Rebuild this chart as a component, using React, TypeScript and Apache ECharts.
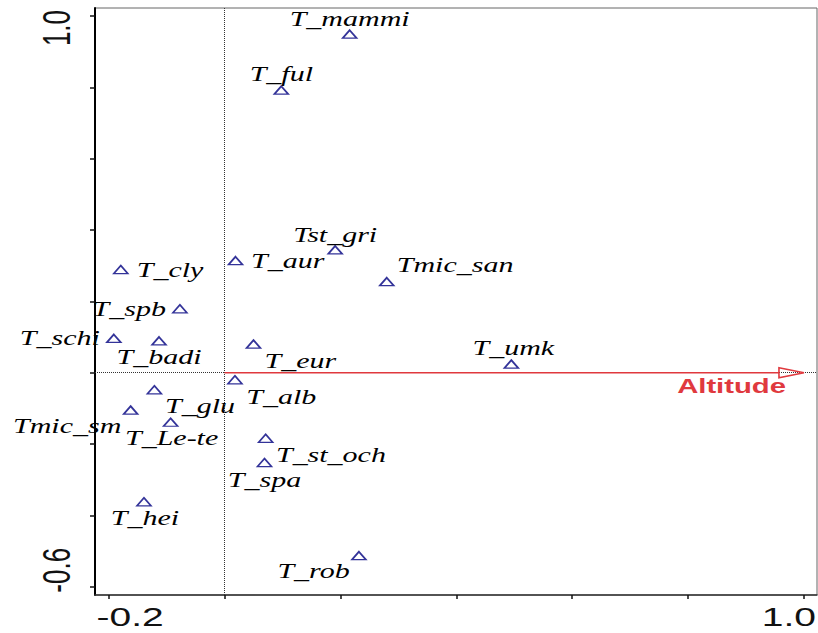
import React, { useEffect, useRef } from "react";
import * as echarts from "echarts";

// ---- data ----
const speciesNames = [
  "T_mammi", "T_ful", "Tst_gri", "T_aur", "Tmic_san", "T_cly", "T_spb",
  "T_schi", "T_badi", "T_eur", "T_umk", "T_alb", "T_glu", "Tmic_sm",
  "T_Le-te", "T_st_och", "T_spa", "T_hei", "T_rob",
];
const axis1Scores = [
  0.216, 0.098, 0.191, 0.019, 0.280, -0.179, -0.077,
  -0.191, -0.113, 0.050, 0.495, 0.018, -0.121, -0.162,
  -0.093, 0.071, 0.069, -0.139, 0.232,
];
const axis2Scores = [
  0.949, 0.792, 0.344, 0.314, 0.255, 0.289, 0.179,
  0.096, 0.089, 0.080, 0.024, -0.020, -0.048, -0.105,
  -0.139, -0.184, -0.252, -0.362, -0.513,
];
const envNames = ["Altitude"];
const envAxis1 = [1.0];
const envAxis2 = [0.0];

const xTickValues = [-0.2, 0, 0.2, 0.4, 0.6, 0.8, 1.0];
const yTickValues = [-0.6, -0.4, -0.2, 0, 0.2, 0.4, 0.6, 0.8, 1.0];
const xTickLabels = ["-0.2", "1.0"];
const yTickLabels = ["-0.6", "1.0"];

// ---- layout (label placement relative to each point: anchor, dx, dy in px) ----
const labelPlacement: [string, number, number][] = [
  ["center", 0, -14.5],
  ["center", 0, -15.5],
  ["center", 0, -15],
  ["left", 15.5, 1],
  ["left", 10, -16],
  ["left", 16, 0.5],
  ["right", -14, 1],
  ["right", -14, 0],
  ["center", 0, 16.5],
  ["left", 11, 17.4],
  ["center", 2, -15.5],
  ["left", 11.4, 17.8],
  ["left", 10.7, 16.7],
  ["right", -9.3, 16.7],
  ["center", 1, 16],
  ["left", 10.3, 16.7],
  ["center", 0, 17.3],
  ["center", 1, 16.3],
  ["right", -9.3, 16],
];

const RED = "#e0393e";
const NAVY = "#000080";

export default function App() {
  const ref = useRef<HTMLDivElement>(null);
  useEffect(() => {
    const chart = echarts.init(ref.current!, null, { renderer: "svg" });
    const points = speciesNames.map((n, i) => ({ name: n, value: [axis1Scores[i], axis2Scores[i], i] }));
    const env = envNames.map((n, i) => ({ name: n, value: [envAxis1[i], envAxis2[i], i] }));

    chart.setOption({
      animation: false,
      backgroundColor: "#ffffff",
      grid: { left: 95, right: 1, top: 8, bottom: 38, show: true, borderColor: "#666", borderWidth: 1 },
      xAxis: {
        type: "value",
        min: -0.2235,
        max: 1.0225,
        axisLine: { show: true, onZero: false, lineStyle: { color: "#333", width: 1.5 } },
        axisTick: { show: true, customValues: xTickValues, length: 4, lineStyle: { color: "#111", width: 1.5 } },
        axisLabel: { show: false },
        splitLine: { show: false },
      },
      yAxis: {
        type: "value",
        min: -0.6233,
        max: 1.0224,
        axisLine: { show: true, onZero: false, lineStyle: { color: "#000", width: 2 } },
        axisTick: { show: true, customValues: yTickValues, length: 5, lineStyle: { color: "#111", width: 1.5 } },
        axisLabel: { show: false },
        splitLine: { show: false },
      },
      series: [
        {
          type: "scatter",
          data: points,
          symbol: "triangle",
          symbolSize: [14, 8],
          itemStyle: { color: "rgba(0,0,0,0)", borderColor: NAVY, borderWidth: 1.6 },
          z: 3,
          markLine: {
            silent: true,
            symbol: ["none", "none"],
            label: { show: false },
            lineStyle: { type: "dotted", color: "#333", width: 1 },
            data: [{ xAxis: 0 }, { yAxis: 0 }],
          },
        },
        {
          type: "custom",
          data: points,
          z: 4,
          renderItem: (params: any, api: any) => {
            const i = api.value(2);
            const pt = api.coord([api.value(0), api.value(1)]);
            const [align, dx, dy] = labelPlacement[i];
            return {
              type: "text",
              x: pt[0] + dx,
              y: pt[1] + dy,
              scaleX: 1.5,
              style: {
                text: speciesNames[i],
                fill: "#000",
                fontFamily: "Liberation Serif",
                fontStyle: "italic",
                fontSize: 20,
                align,
                verticalAlign: "middle",
              },
            };
          },
        },
        {
          type: "custom",
          data: env,
          z: 5,
          renderItem: (params: any, api: any) => {
            const i = api.value(2);
            const o = api.coord([0, 0]);
            const t = api.coord([api.value(0), api.value(1)]);
            const headL = 25;
            const headH = 5;
            return {
              type: "group",
              children: [
                { type: "line", shape: { x1: o[0], y1: o[1], x2: t[0] - headL, y2: t[1] }, style: { stroke: RED, lineWidth: 1.6 } },
                {
                  type: "polygon",
                  shape: { points: [[t[0] - headL, t[1] - headH], [t[0], t[1]], [t[0] - headL, t[1] + headH]] },
                  style: { fill: "none", stroke: RED, lineWidth: 1.6 },
                },
                {
                  type: "text",
                  x: t[0] - 18,
                  y: t[1] + 13.5,
                  scaleX: 1.5,
                  style: {
                    text: envNames[i],
                    fill: RED,
                    fontFamily: "Liberation Sans",
                    fontWeight: "bold",
                    fontSize: 19.5,
                    align: "right",
                    verticalAlign: "middle",
                  },
                },
              ],
            };
          },
        },
      ],
    });

    const px = (v: number) => chart.convertToPixel({ xAxisIndex: 0 }, v) as number;
    const py = (v: number) => chart.convertToPixel({ yAxisIndex: 0 }, v) as number;
    const tickFont = { fontFamily: "Liberation Sans", fontSize: 26, fill: "#111" };
    chart.setOption({
      graphic: [
        {
          type: "text", x: px(parseFloat(xTickLabels[0])) - 12, y: 617, scaleX: 1.5,
          style: { ...tickFont, text: xTickLabels[0], align: "left", verticalAlign: "middle" },
        },
        {
          type: "text", x: px(parseFloat(xTickLabels[1])) + 12, y: 617, scaleX: 1.5,
          style: { ...tickFont, text: xTickLabels[1], align: "right", verticalAlign: "middle" },
        },
        {
          type: "text", x: 56, y: py(parseFloat(yTickLabels[0])) + 6, rotation: Math.PI / 2, scaleY: 1.5,
          style: { ...tickFont, text: yTickLabels[0], align: "left", verticalAlign: "middle" },
        },
        {
          type: "text", x: 56, y: py(parseFloat(yTickLabels[1])) - 6, rotation: Math.PI / 2, scaleY: 1.5,
          style: { ...tickFont, text: yTickLabels[1], align: "right", verticalAlign: "middle" },
        },
      ],
    });
    return () => chart.dispose();
  }, []);
  return <div ref={ref} style={{ position: "absolute", left: 0, top: 0, width: 818, height: 633 }} />;
}
